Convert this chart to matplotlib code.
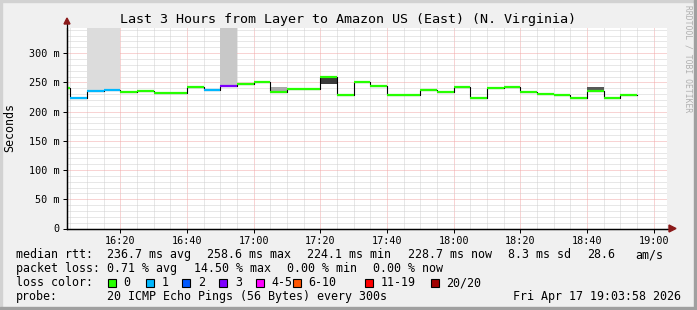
import matplotlib
matplotlib.use('Agg')
import matplotlib.pyplot as plt
from matplotlib.patches import Rectangle, Polygon
from matplotlib.lines import Line2D

W, H, DPI = 697, 310, 100
MONO = 'DejaVu Sans Mono'

title = "Last 3 Hours from Layer to Amazon US (East) (N. Virginia)"

# interval start, minutes after 16:00 (5-minute steps)
interval_start = list(range(0, 175, 5))
median_rtt = [240.6, 224.1, 236.0, 237.7, 234.2, 236.0, 232.5, 232.5, 242.8, 237.2,
              244.5, 248.0, 251.4, 234.2, 239.4, 239.4, 258.6, 229.1, 251.4, 244.5,
              229.1, 229.1, 237.7, 233.2, 242.8, 224.0, 241.1, 242.8, 233.2, 230.8,
              229.1, 224.0, 234.9, 224.0, 228.7]
loss_count = [0, 1, 1, 1, 0, 0, 0, 0, 0, 1,
              3, 0, 0, 0, 0, 0, 0, 0, 0, 0,
              0, 0, 0, 0, 0, 0, 0, 0, 0, 0,
              0, 0, 0, 0, 0]

# smoke (ping spread) bands
smoke_start = [10, 15, 50, 65, 80, 160]
smoke_low = [236.0, 237.7, 244.5, 234.2, 248.0, 234.9]
smoke_high = [400, 400, 400, 241.8, 258.6, 242.3]
smoke_shade = ['#dcdcdc', '#dcdcdc', '#c8c8c8', '#aaaaaa', '#3c3c3c', '#585858']

y_ticks = [0, 50, 100, 150, 200, 250, 300]
x_ticks = [20, 40, 60, 80, 100, 120, 140, 160, 180]
x_tick_labels = ['16:20', '16:40', '17:00', '17:20', '17:40', '18:00', '18:20', '18:40', '19:00']
x_range = (3.97, 183.97)
y_max = 343

legend_labels = ['0', '1', '2', '3', '4-5', '6-10', '11-19', '20/20']
legend_colors = ['#26ff00', '#00b8ff', '#0059ff', '#7e00ff', '#ff00ff', '#ff5500', '#ff0000', '#a00000']

row1 = [("median rtt:", 16), ("236.7 ms avg", 107.3), ("258.6 ms max", 207.3),
        ("224.1 ms min", 307.3), ("228.7 ms now", 407.7), ("8.3 ms sd", 507.7),
        ("28.6", 586.7), ("am/s", 635.7)]
row2 = [("packet loss:", 16), ("0.71 % avg", 107.3), ("14.50 % max", 194),
        ("0.00 % min", 286.7), ("0.00 % now", 372.7)]
row4 = [("probe:", 16), ("20 ICMP Echo Pings (56 Bytes) every 300s", 107.3),
        ("Fri Apr 17 19:03:58 2026", 513.3)]


def loss_color(n):
    if n == 0:
        return legend_colors[0]
    if n == 1:
        return legend_colors[1]
    if n == 2:
        return legend_colors[2]
    if n == 3:
        return legend_colors[3]
    if n <= 5:
        return legend_colors[4]
    if n <= 10:
        return legend_colors[5]
    if n <= 19:
        return legend_colors[6]
    return legend_colors[7]


def px(x, y):
    return x / W, 1 - y / H


fig = plt.figure(figsize=(W / DPI, H / DPI), dpi=DPI, facecolor='#f0f0f0')

# 3D border
fig.patches.append(Rectangle((0, 1 - 2 / H), 1, 2 / H, transform=fig.transFigure, color='#d2d2d2', zorder=0))
fig.patches.append(Rectangle((0, 0), 2 / W, 1, transform=fig.transFigure, color='#d2d2d2', zorder=0))
fig.patches.append(Rectangle((1 - 3 / W, 0), 3 / W, 1, transform=fig.transFigure, color='#a0a0a0', zorder=0))
fig.patches.append(Rectangle((0, 0), 1, 3 / H, transform=fig.transFigure, color='#a0a0a0', zorder=0))

L, T, R, B = 67, 28, 667, 228.5
ax = fig.add_axes([L / W, 1 - B / H, (R - L) / W, (B - T) / H])
ax.set_facecolor('white')
ax.set_xlim(*x_range)
ax.set_ylim(0, y_max)

# grid
ax.set_xticks(x_ticks)
ax.set_xticklabels(x_tick_labels)
ax.set_xticks(list(range(5, 185, 5)), minor=True)
ax.set_yticks(y_ticks)
ax.set_yticklabels(['0' if v == 0 else f'{v} m' for v in y_ticks])
ax.set_yticks(list(range(10, 345, 10)), minor=True)
ax.grid(which='minor', color='#d0d0d0', ls=(0, (1, 1)), lw=0.72)
ax.grid(which='major', color='#f2a8a8', ls=(0, (1, 1)), lw=0.72)
ax.set_axisbelow(True)
ax.tick_params(which='major', direction='out', length=3, width=0.72, pad=2.5,
               labelsize=7.3, colors='black')
ax.tick_params(which='minor', length=0)
for lab in ax.get_xticklabels() + ax.get_yticklabels():
    lab.set_family(MONO)
for s in ['top', 'right']:
    ax.spines[s].set_visible(False)
for s in ['left', 'bottom']:
    ax.spines[s].set_linewidth(0.9)

# smoke
ax.bar(smoke_start, [h - l for h, l in zip(smoke_high, smoke_low)], bottom=smoke_low,
       width=5, align='edge', color=smoke_shade, linewidth=0, zorder=2)

# median line: black step connectors then coloured segments
ax.step(interval_start + [interval_start[-1] + 5], median_rtt + [median_rtt[-1]],
        where='post', color='black', lw=0.8, zorder=3)
ax.hlines(median_rtt, interval_start, [s + 5 for s in interval_start],
          colors=[loss_color(n) for n in loss_count], lw=1.6, zorder=4)

# axis arrows
arrow_col = '#8b1a1a'
fig.add_artist(Line2D([L / W, L / W], [1 - B / H, 1 - 22 / H], color='black', lw=0.9, transform=fig.transFigure))
fig.add_artist(Line2D([L / W, 671 / W], [1 - B / H, 1 - B / H], color='black', lw=0.9, transform=fig.transFigure))
fig.patches.append(Polygon([px(64, 24), px(70, 24), px(67, 18)], closed=True,
                           transform=fig.transFigure, color=arrow_col, zorder=5))
fig.patches.append(Polygon([px(669, B - 3.5), px(669, B + 3.5), px(676, B)], closed=True,
                           transform=fig.transFigure, color=arrow_col, zorder=5))

# texts
fig.text(*px(348.5, 19), title, family=MONO, fontsize=9.6, ha='center', va='center')
fig.text(*px(10, 128), 'Seconds', family=MONO, fontsize=8.4, rotation=90, ha='center', va='center')
fig.text(*px(688, 5), 'RRDTOOL / TOBI OETIKER', family=MONO, fontsize=5.8, rotation=270,
         ha='center', va='top', color='#b0b0b0')

FS = 8.4
for txt, x in row1:
    fig.text(*px(x, 254.5), txt, family=MONO, fontsize=FS, ha='left', va='center')
for txt, x in row2:
    fig.text(*px(x, 268.5), txt, family=MONO, fontsize=FS, ha='left', va='center')
fig.text(*px(16, 282.5), 'loss color:', family=MONO, fontsize=FS, ha='left', va='center')
box_x = [108, 145.7, 182.3, 219.3, 256, 292.7, 365.3, 430.7]
for bx, lab, col in zip(box_x, legend_labels, legend_colors):
    fig.patches.append(Rectangle(px(bx, 286.5), 8 / W, 8 / H, transform=fig.transFigure,
                                 facecolor=col, edgecolor='black', lw=0.8, zorder=5))
    fig.text(*px(bx + 15.5, 282.5), lab, family=MONO, fontsize=FS, ha='left', va='center')
for txt, x in row4:
    fig.text(*px(x, 296.5), txt, family=MONO, fontsize=FS, ha='left', va='center')

fig.savefig('out.png', dpi=DPI, facecolor=fig.get_facecolor())
